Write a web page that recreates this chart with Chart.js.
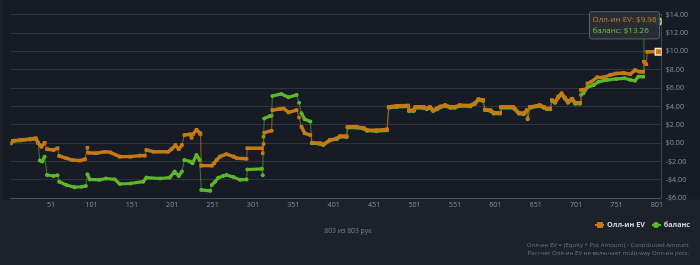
<!DOCTYPE html>
<html>
<head>
<meta charset="utf-8">
<script src="https://cdn.jsdelivr.net/npm/chart.js@4.4.0/dist/chart.umd.min.js"></script>
<style>
  html, body { margin:0; padding:0; background:#1c212a; }
  #wrap { position:relative; width:700px; height:265px; overflow:hidden; font-family:"Open Sans", sans-serif; }
  canvas { position:absolute; left:0; top:0; }
  .count { position:absolute; left:0; width:696px; top:226px; text-align:center; font-size:6.8px; color:#7d828b; }
  .legend { position:absolute; right:10px; top:219px; font-size:7.2px; font-weight:bold; color:#d4d7dc; white-space:nowrap; }
  .legend span.item { display:inline-block; margin-left:5px; }
  .sym { display:inline-block; position:relative; width:9px; height:8px; vertical-align:middle; margin-right:3px; }
  .sym .ln { position:absolute; left:0; top:3px; width:9px; height:2px; }
  .sym .mk { position:absolute; left:1.5px; top:1px; width:6px; height:6px; }
  .note { position:absolute; right:11px; top:241px; text-align:right; font-size:6.1px; line-height:7.8px; color:#6f747d; }
</style>
</head>
<body>
<div id="wrap">
  <canvas id="c" width="700" height="265"></canvas>
  <div class="count">803 из 803 рук</div>
  <div class="legend">
    <span class="item"><span class="sym"><span class="ln" style="background:#c77a14"></span><span class="mk" style="background:#c77a14;border-radius:1px"></span></span>Олл-ин EV</span>
    <span class="item"><span class="sym"><span class="ln" style="background:#5cb82a"></span><span class="mk" style="background:#5cb82a;border-radius:50%"></span></span>баланс</span>
  </div>
  <div class="note">Олл-ин EV = (Equity * Pot Amount) - Contributed Amount<br>Рассчет Олл-ин EV не включает multi-way Олл-ин pots.</div>
</div>
<script>
const seriesNames = ['Олл-ин EV', 'баланс'];
const xTickValues = [51, 101, 151, 201, 251, 301, 351, 401, 451, 501, 551, 601, 651, 701, 751, 801];
const totalHands = 803;

const evHands = [1,4,13,25,32,35,39,43,46,54,59,61,70,77,87,93,96,97,107,118,124,136,149,161,167,169,178,196,200,205,209,213,216,223,225,227,231,235,236,237,250,253,256,260,268,277,281,293,294,312,313,314,315,324,325,334,339,345,355,358,361,365,372,374,384,388,396,405,409,417,418,429,438,442,454,467,469,479,493,494,500,502,512,516,520,524,529,533,539,545,551,557,570,576,580,586,588,595,599,607,608,623,625,630,636,640,641,644,656,661,665,669,671,675,679,683,687,691,696,700,706,707,712,715,720,727,735,743,751,760,768,774,780,784,785,788,789,803];
const evValues = [0.0,0.27,0.34,0.45,0.53,0.05,-0.39,0.05,-0.67,-0.75,-0.56,-1.4,-1.65,-1.83,-1.9,-1.76,-0.5,-1.04,-1.1,-0.93,-1.0,-1.47,-1.47,-1.36,-1.36,-0.75,-0.93,-0.93,-0.67,-0.2,-0.67,-0.2,0.89,0.96,0.6,1.0,1.46,1.14,1.0,-2.45,-2.45,-2.2,-1.83,-1.47,-1.2,-1.47,-1.65,-1.7,-0.56,-0.56,-1.1,-0.1,1.14,1.36,3.6,3.72,3.78,3.35,3.6,2.8,1.78,1.07,0.89,0.05,0.0,-0.15,0.34,0.53,0.78,0.75,1.78,1.78,1.67,1.45,1.4,1.5,3.96,4.07,4.1,3.6,3.6,3.96,3.96,3.78,3.96,3.6,3.8,4.0,4.15,3.96,3.96,4.15,4.1,4.4,4.8,4.7,3.67,3.6,3.32,3.32,3.96,3.96,3.78,3.32,3.26,3.6,2.7,3.96,4.15,3.96,3.78,3.78,4.7,4.5,5.07,5.43,4.96,4.5,4.85,4.4,4.4,5.8,5.85,6.5,6.7,7.17,7.17,7.43,7.6,7.65,7.52,7.96,7.78,7.78,8.87,8.6,9.96,9.96];

const balHands = [1,4,13,25,32,35,37,40,43,46,54,59,61,70,80,89,94,96,99,111,119,130,136,149,165,169,186,198,204,209,213,216,223,226,231,235,237,248,250,254,258,264,268,277,285,293,294,312,313,314,315,322,324,325,336,345,355,358,361,365,372,374,384,388,396,405,409,417,418,429,438,442,454,467,469,479,493,494,500,502,512,516,520,524,529,533,539,545,551,557,570,576,580,586,588,595,599,607,608,623,625,630,636,640,641,644,656,661,665,669,671,675,679,683,687,691,696,700,706,707,710,715,723,729,740,751,761,768,774,778,784,785,803];
const balValues = [-0.05,0.22,0.3,0.4,0.48,0.0,-1.9,-2.0,-1.47,-3.47,-3.58,-3.5,-4.2,-4.56,-4.8,-4.75,-4.67,-3.4,-3.95,-4.0,-3.85,-3.95,-4.45,-4.4,-4.2,-3.75,-3.85,-3.75,-3.1,-3.58,-3.1,-1.83,-2.0,-2.2,-1.29,-1.83,-5.1,-5.2,-4.56,-4.2,-3.76,-3.58,-3.47,-3.7,-4.0,-3.95,-2.87,-2.8,-3.5,0.7,2.7,2.96,3.0,5.15,5.36,5.0,5.26,4.4,3.26,2.6,2.36,0.0,-0.08,-0.2,0.3,0.45,0.7,0.68,1.7,1.7,1.58,1.35,1.3,1.4,3.85,3.95,4.0,3.5,3.5,3.85,3.85,3.7,3.85,3.5,3.7,3.9,4.05,3.85,3.85,4.05,4.0,4.3,4.7,4.6,3.6,3.5,3.22,3.22,3.85,3.85,3.7,3.22,3.15,3.5,2.6,3.85,4.05,3.85,3.7,3.7,4.6,4.4,4.97,5.33,4.86,4.4,4.75,4.3,4.3,5.26,5.43,6.1,6.35,6.7,6.9,7.0,7.07,6.9,6.8,7.24,7.24,13.26,13.26];

const yMin = -6, yMax = 14, yStep = 2;

const EV_COLOR = '#c77a14', EV_DIM = 'rgba(170,105,25,0.85)';
const BAL_COLOR = '#5cb82a', BAL_DIM = 'rgba(70,140,35,0.85)';
const FONT = '"Open Sans", sans-serif';

function steep(ctx) {
  const dx = Math.abs(ctx.p1.x - ctx.p0.x), dy = Math.abs(ctx.p1.y - ctx.p0.y);
  return dy > 3 && dy > 2.2 * dx;
}
function money(v) {
  return (v < 0 ? '-$' : '$') + Math.abs(v).toFixed(2);
}

const bgPlugin = {
  id: 'bg',
  beforeDraw(chart) {
    const {ctx, chartArea} = chart;
    ctx.save();
    ctx.fillStyle = '#1c212a';
    ctx.fillRect(0, 0, chart.width, chart.height);
    ctx.fillStyle = '#161b25';
    ctx.fillRect(3, 0, chart.width - 3, chartArea.bottom + 1);
    ctx.restore();
  }
};

Chart.Tooltip.positioners.pinned = function(elements) {
  const c = this.chart;
  const xs = c.scales.x, ys = c.scales.y;
  return { x: xs.getPixelForValue(totalHands) - 1, y: ys.getPixelForValue(yMax) - 3 };
};

const chart = new Chart(document.getElementById('c'), {
  type: 'line',
  data: {
    datasets: [
      {
        label: seriesNames[0],
        data: evHands.map((h, i) => ({x: h, y: evValues[i]})),
        borderColor: EV_COLOR,
        backgroundColor: EV_COLOR,
        borderWidth: 3.4,
        borderCapStyle: 'round',
        borderJoinStyle: 'round',
        pointStyle: 'rect',
        pointRadius: 2.5,
        pointBorderWidth: 0,
        pointHoverRadius: 4.5,
        pointHoverBorderWidth: 1.5,
        pointHoverBorderColor: '#f3e7d2',
        pointHoverBackgroundColor: EV_COLOR,
        segment: {
          borderWidth: ctx => steep(ctx) ? 1 : 3.4,
          borderColor: ctx => steep(ctx) ? EV_DIM : EV_COLOR
        }
      },
      {
        label: seriesNames[1],
        data: balHands.map((h, i) => ({x: h, y: balValues[i]})),
        borderColor: BAL_COLOR,
        backgroundColor: BAL_COLOR,
        borderWidth: 3.2,
        borderCapStyle: 'round',
        borderJoinStyle: 'round',
        pointStyle: 'circle',
        pointRadius: 2,
        pointBorderWidth: 0,
        pointHoverRadius: 3.5,
        pointHoverBorderWidth: 1.5,
        pointHoverBorderColor: '#b9e59c',
        pointHoverBackgroundColor: BAL_COLOR,
        segment: {
          borderWidth: ctx => steep(ctx) ? 1 : 3.2,
          borderColor: ctx => steep(ctx) ? BAL_DIM : BAL_COLOR
        }
      }
    ]
  },
  options: {
    responsive: false,
    animation: false,
    events: [],
    layout: { padding: { left: 10.7, top: 14.7, right: 0, bottom: 0 } },
    plugins: {
      legend: { display: false },
      tooltip: {
        enabled: true,
        position: 'pinned',
        xAlign: 'right',
        yAlign: 'top',
        caretSize: 0,
        caretPadding: 0,
        cornerRadius: 2,
        backgroundColor: 'rgba(42,46,54,0.96)',
        borderColor: '#5b6069',
        borderWidth: 1,
        padding: { left: 3, right: 3, top: 3, bottom: 3 },
        displayColors: false,
        bodyFont: { family: FONT, size: 8 },
        bodySpacing: 2,
        callbacks: {
          title: () => '',
          label: ctx => ctx.dataset.label + ': ' + money(ctx.parsed.y),
          labelTextColor: ctx => ctx.datasetIndex === 0 ? '#c7822a' : '#6cc23e'
        }
      }
    },
    scales: {
      x: {
        type: 'linear',
        min: 1,
        max: 807,
        grid: { display: false, drawTicks: false, tickLength: 0 },
        border: { display: true, color: '#4a505a', width: 1 },
        afterBuildTicks: axis => { axis.ticks = xTickValues.map(v => ({value: v})); },
        afterFit: s => { s.height = 66.8; },
        ticks: {
          autoSkip: false, maxRotation: 0, padding: 2,
          color: '#8b9098', font: { family: FONT, size: 7.2 },
          callback: v => String(v)
        }
      },
      y: {
        position: 'right',
        min: yMin,
        max: yMax,
        afterFit: s => { s.width = 38.3; },
        grid: { color: '#2e343e', lineWidth: 1, drawTicks: false, tickLength: 0 },
        border: { display: true, color: '#3e444e', width: 1 },
        ticks: {
          stepSize: yStep, padding: 4,
          color: '#8b9098', font: { family: FONT, size: 7.2 },
          callback: v => money(v)
        }
      }
    }
  },
  plugins: [bgPlugin]
});

const act = [
  {datasetIndex: 0, index: evHands.length - 1},
  {datasetIndex: 1, index: balHands.length - 1}
];
chart.setActiveElements(act);
chart.tooltip.setActiveElements(act, {x: 0, y: 0});
chart.update();
</script>
</body>
</html>
